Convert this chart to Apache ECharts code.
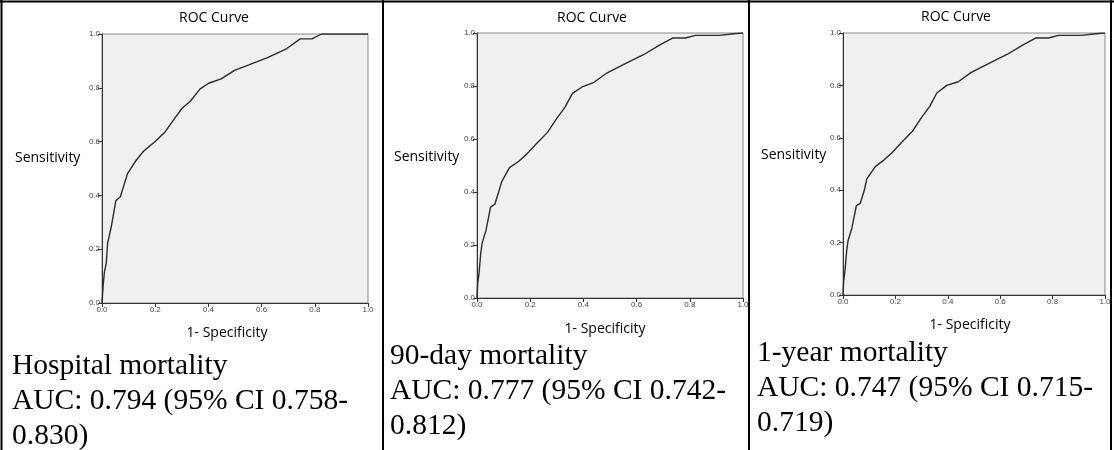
<!DOCTYPE html>
<html>
<head>
<meta charset="utf-8">
<style>
html, body { margin: 0; padding: 0; background: #fff; }
#main { width: 1114px; height: 450px; }
</style>
<script src="https://cdn.jsdelivr.net/npm/echarts@6/dist/echarts.min.js"></script>
</head>
<body>
<div id="main"></div>
<script>
// axis ticks (both axes run 0..1 in steps of 0.2)
var tickStep = 0.2;

// hospital mortality ROC (1-specificity, sensitivity)
var hospX = [0, 0.004, 0.009, 0.016, 0.021, 0.035, 0.052, 0.069, 0.096, 0.125, 0.155, 0.203, 0.238, 0.269, 0.301, 0.332, 0.368, 0.401, 0.448, 0.498, 0.552, 0.62, 0.695, 0.745, 0.789, 0.825, 1.0];
var hospY = [0, 0.06, 0.115, 0.147, 0.222, 0.284, 0.38, 0.395, 0.481, 0.526, 0.563, 0.603, 0.637, 0.681, 0.724, 0.75, 0.795, 0.817, 0.833, 0.865, 0.885, 0.911, 0.946, 0.982, 0.982, 1.0, 1.0];

// 90-day mortality ROC
var day90X = [0, 0.0025, 0.0075, 0.014, 0.019, 0.034, 0.051, 0.067, 0.08, 0.093, 0.122, 0.156, 0.187, 0.225, 0.265, 0.3, 0.331, 0.359, 0.398, 0.44, 0.488, 0.563, 0.626, 0.689, 0.735, 0.783, 0.821, 0.913, 0.965, 1.0];
var day90Y = [0, 0.054, 0.092, 0.168, 0.206, 0.256, 0.343, 0.354, 0.395, 0.439, 0.492, 0.515, 0.543, 0.584, 0.625, 0.678, 0.72, 0.772, 0.798, 0.814, 0.849, 0.887, 0.918, 0.956, 0.981, 0.981, 0.991, 0.991, 0.997, 1.0];

// 1-year mortality ROC
var year1X = [0, 0.0025, 0.0075, 0.014, 0.019, 0.034, 0.051, 0.066, 0.08, 0.091, 0.123, 0.156, 0.187, 0.225, 0.265, 0.3, 0.331, 0.358, 0.396, 0.44, 0.488, 0.563, 0.626, 0.689, 0.737, 0.784, 0.822, 0.911, 0.965, 1.0];
var year1Y = [0, 0.054, 0.092, 0.168, 0.206, 0.256, 0.341, 0.35, 0.395, 0.443, 0.49, 0.515, 0.543, 0.584, 0.625, 0.678, 0.72, 0.771, 0.8, 0.814, 0.849, 0.887, 0.918, 0.956, 0.981, 0.981, 0.991, 0.991, 0.997, 1.0];

var chartTitle = 'ROC Curve';
var yName = 'Sensitivity';
var xName = '1- Specificity';

var captions = [
    ['Hospital mortality', 'AUC: 0.794 (95% CI 0.758-', '0.830)'],
    ['90-day mortality', 'AUC: 0.777 (95% CI 0.742-', '0.812)'],
    ['1-year mortality', 'AUC: 0.747 (95% CI 0.715-', '0.719)']
];

function zip(xs, ys) {
    var out = [];
    for (var i = 0; i < xs.length; i++) out.push([xs[i], ys[i]]);
    return out;
}

var curves = [zip(hospX, hospY), zip(day90X, day90Y), zip(year1X, year1Y)];

// layout of each cell: plot box, title / axis name spots, caption start
var panels = [
    { left: 102, top: 34, width: 266, height: 269, titleX: 214, titleY: 18, yNameX: 15, yNameY: 158, xNameX: 227, xNameY: 333, capX: 12, capY: 366 },
    { left: 477, top: 33, width: 266, height: 265, titleX: 592, titleY: 18, yNameX: 394, yNameY: 157, xNameX: 605, xNameY: 329, capX: 390, capY: 356 },
    { left: 843, top: 33, width: 262, height: 262, titleX: 956, titleY: 17, yNameX: 761, yNameY: 155, xNameX: 970, xNameY: 325, capX: 757, capY: 353 }
];

var sansFont = '"Open Sans", "Noto Sans", sans-serif';
var tickFont = '"Liberation Sans", Arial, sans-serif';

function axisCommon(i) {
    return {
        type: 'value',
        gridIndex: i,
        min: 0,
        max: 1,
        interval: tickStep,
        axisLine: { show: true, onZero: false, lineStyle: { color: '#333', width: 1 } },
        axisTick: { show: true, length: 4, lineStyle: { color: '#333', width: 1 } },
        axisLabel: {
            fontSize: 8,
            color: '#444',
            fontFamily: tickFont,
            margin: 2,
            showMinLabel: true,
            showMaxLabel: true,
            formatter: function (v) { return v.toFixed(1); }
        },
        splitLine: { show: false }
    };
}

var grids = [], xAxes = [], yAxes = [], series = [], graphics = [];

panels.forEach(function (p, i) {
    grids.push({
        left: p.left, top: p.top, width: p.width, height: p.height,
        show: true, backgroundColor: '#f0f0f0', borderColor: '#888', borderWidth: 1
    });
    var xa = axisCommon(i);
    xa.axisLabel.margin = 3;
    xAxes.push(xa);
    yAxes.push(axisCommon(i));
    series.push({
        type: 'line',
        xAxisIndex: i,
        yAxisIndex: i,
        showSymbol: false,
        symbol: 'none',
        lineStyle: { color: '#2b2b2b', width: 1.4 },
        data: curves[i]
    });

    graphics.push({
        type: 'text', x: p.titleX, y: p.titleY, z: 10,
        style: { text: chartTitle, font: '14px ' + sansFont, fill: '#000', align: 'center', verticalAlign: 'middle' }
    });
    graphics.push({
        type: 'text', x: p.yNameX, y: p.yNameY, z: 10,
        style: { text: yName, font: '14px ' + sansFont, fill: '#000', align: 'left', verticalAlign: 'middle' }
    });
    graphics.push({
        type: 'text', x: p.xNameX, y: p.xNameY, z: 10,
        style: { text: xName, font: '14px ' + sansFont, fill: '#000', align: 'center', verticalAlign: 'middle' }
    });
    captions[i].forEach(function (line, k) {
        graphics.push({
            type: 'text', x: p.capX, y: p.capY + k * 35, z: 10,
            style: { text: line, font: '29.5px "Liberation Serif", "Times New Roman", serif', fill: '#000', align: 'left', verticalAlign: 'middle' }
        });
    });
});

// table borders
var borderStyle = { stroke: '#000', lineWidth: 2 };
[[0, 1.5, 1114, 1.5], [1.5, 0, 1.5, 450], [383, 0, 383, 450], [749, 0, 749, 450], [1111, 0, 1111, 450]].forEach(function (s) {
    graphics.push({ type: 'line', z: 20, shape: { x1: s[0], y1: s[1], x2: s[2], y2: s[3] }, style: borderStyle });
});

var myChart = echarts.init(document.getElementById('main'));
myChart.setOption({
    animation: false,
    backgroundColor: '#fff',
    grid: grids,
    xAxis: xAxes,
    yAxis: yAxes,
    series: series,
    graphic: graphics
});
</script>
</body>
</html>
